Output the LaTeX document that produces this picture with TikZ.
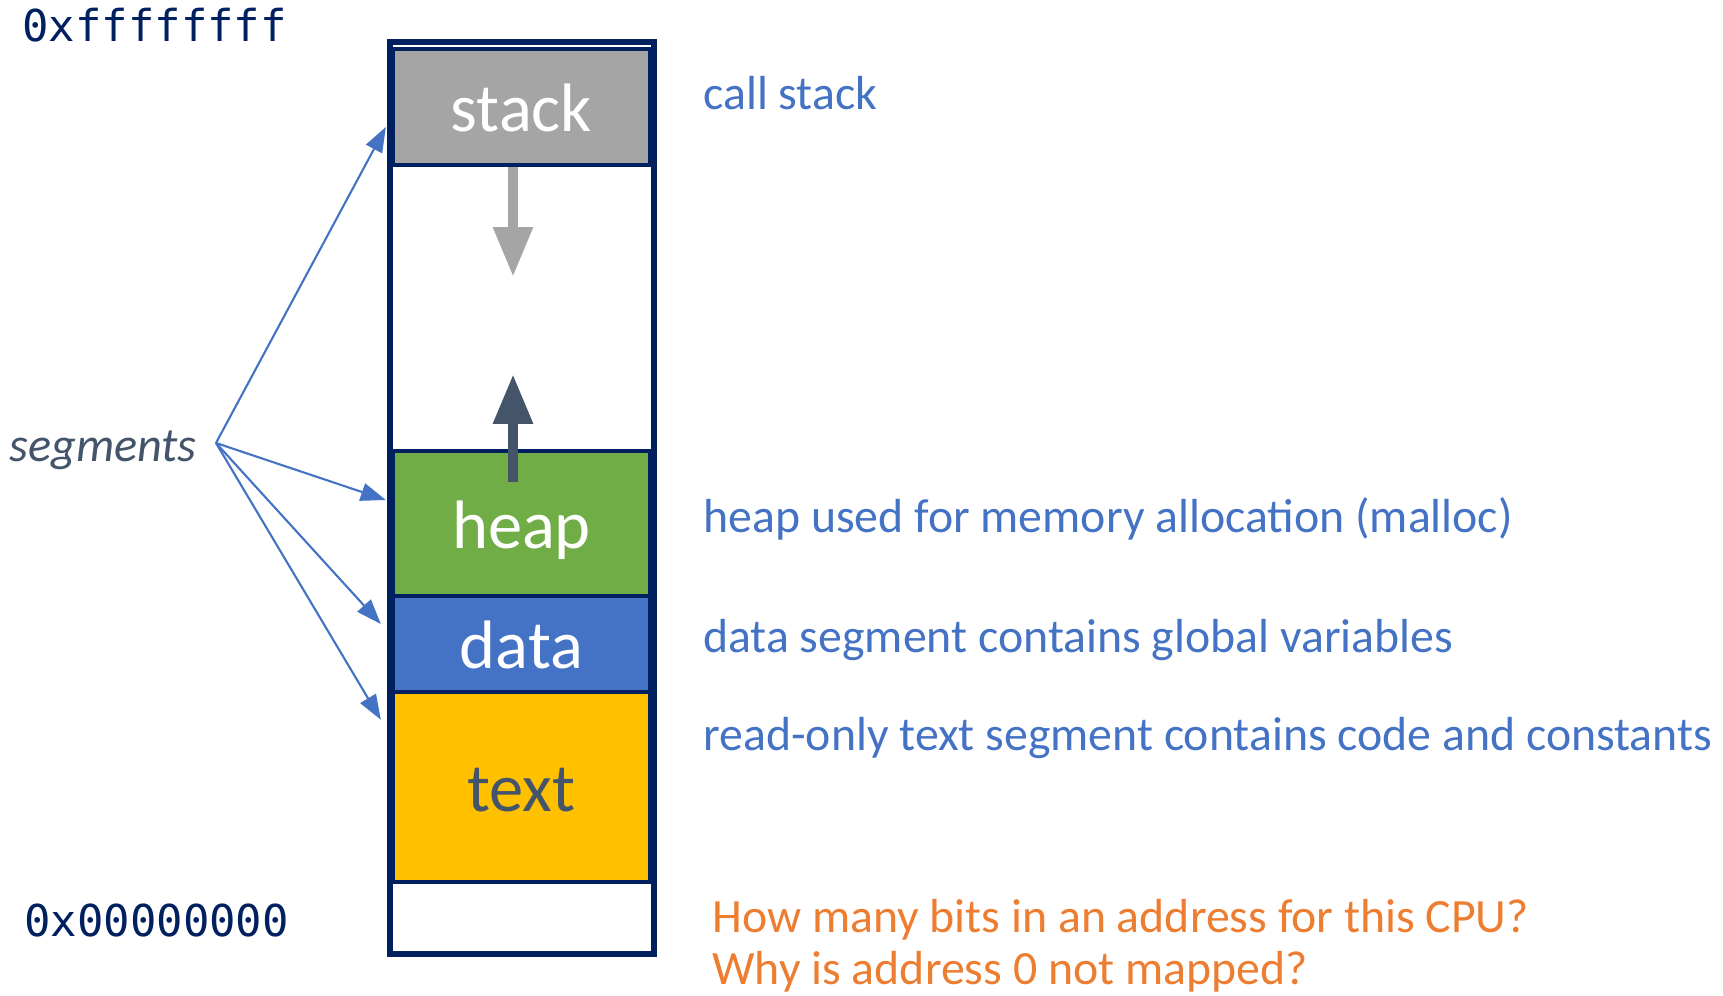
\documentclass[tikz,border=0pt]{standalone}
\usepackage{fontspec}
\setmainfont{Carlito}
\setmonofont{DejaVu Sans Mono}
\usetikzlibrary{arrows.meta}
\definecolor{navy}{HTML}{002060}
\definecolor{stackgray}{HTML}{A5A5A5}
\definecolor{heapgreen}{HTML}{70AD47}
\definecolor{datablue}{HTML}{4472C4}
\definecolor{textyellow}{HTML}{FFC000}
\definecolor{slate}{HTML}{44546A}
\definecolor{noteorange}{HTML}{ED7D31}
\begin{document}
\begin{tikzpicture}[x=0.02cm, y=-0.02cm,
		seg/.style={draw=navy, line width=2.5pt, minimum width=5.14cm, inner sep=0pt, text height=34pt, text depth=6pt, font=\fontsize{39}{42}\selectfont},
		note/.style={anchor=base west, inner sep=0pt, text=datablue, font=\fontsize{27.2}{30}\selectfont},
		addr/.style={anchor=base west, inner sep=0pt, text=navy, font=\ttfamily\fontsize{25}{28}\selectfont},
		pointer/.style={datablue, line width=1.2pt, -{Triangle[length=0.5cm, width=0.36cm]}},
		growarrow/.style={line width=6pt, -{Triangle[length=1cm, width=0.75cm]}}]
	\useasboundingbox (0,0) rectangle (1723,996);
	\node[draw=navy, line width=3.7pt, minimum width=5.28cm, minimum height=18.24cm] (mem) at (522,498) {};
	\node[seg, fill=stackgray, text=white, minimum height=2.32cm] (stack) at (521.5,107) {stack};
	\node[seg, fill=heapgreen, text=white, minimum height=2.9cm] (heap) at (521.5,523.5) {heap};
	\node[seg, fill=datablue, text=white, minimum height=1.92cm] (data) at (521.5,644) {data};
	\node[seg, fill=textyellow, text=slate, minimum height=3.8cm] (text) at (521.5,787) {text};
	\coordinate (stackend) at (513,277);
	\coordinate (heapend) at (513,374);
	\draw[growarrow, stackgray] (stack.south -| stackend) -- (stackend);
	\draw[growarrow, slate] (heap.north -| heapend) ++(0,33) -- (heapend);
	\node[addr] (top) at (22,42) {0xffffffff};
	\node[addr] (bottom) at (24,936) {0x00000000};
	\node[anchor=base west, inner sep=0pt, text=slate, font=\itshape\fontsize{27.5}{30}\selectfont] (segs) at (9,461) {segments};
	\coordinate (fan) at (216,443);
	\draw[pointer] (fan) -- ([xshift=-0.1cm, yshift=-0.4cm]stack.west);
	\draw[pointer] (fan) -- ([xshift=-0.1cm, yshift=0.47cm]heap.west);
	\draw[pointer] (fan) -- ([xshift=-0.2cm, yshift=0.4cm]data.west);
	\draw[pointer] (fan) -- ([xshift=-0.2cm, yshift=-0.6cm]text.north west);
	\node[note] (callnote) at (703,110) {call stack};
	\node[note] (heapnote) at (703,532) {heap used for memory allocation (malloc)};
	\node[note] (datanote) at (703,652) {data segment contains global variables};
	\node[note] (textnote) at (703,750) {read-only text segment contains code and constants};
	\node[note, text=noteorange] (bitsq) at (712,932) {How many bits in an address for this CPU?};
	\node[note, text=noteorange] (zeroq) at (712,984) {Why is address 0 not mapped?};
\end{tikzpicture}
\end{document}
